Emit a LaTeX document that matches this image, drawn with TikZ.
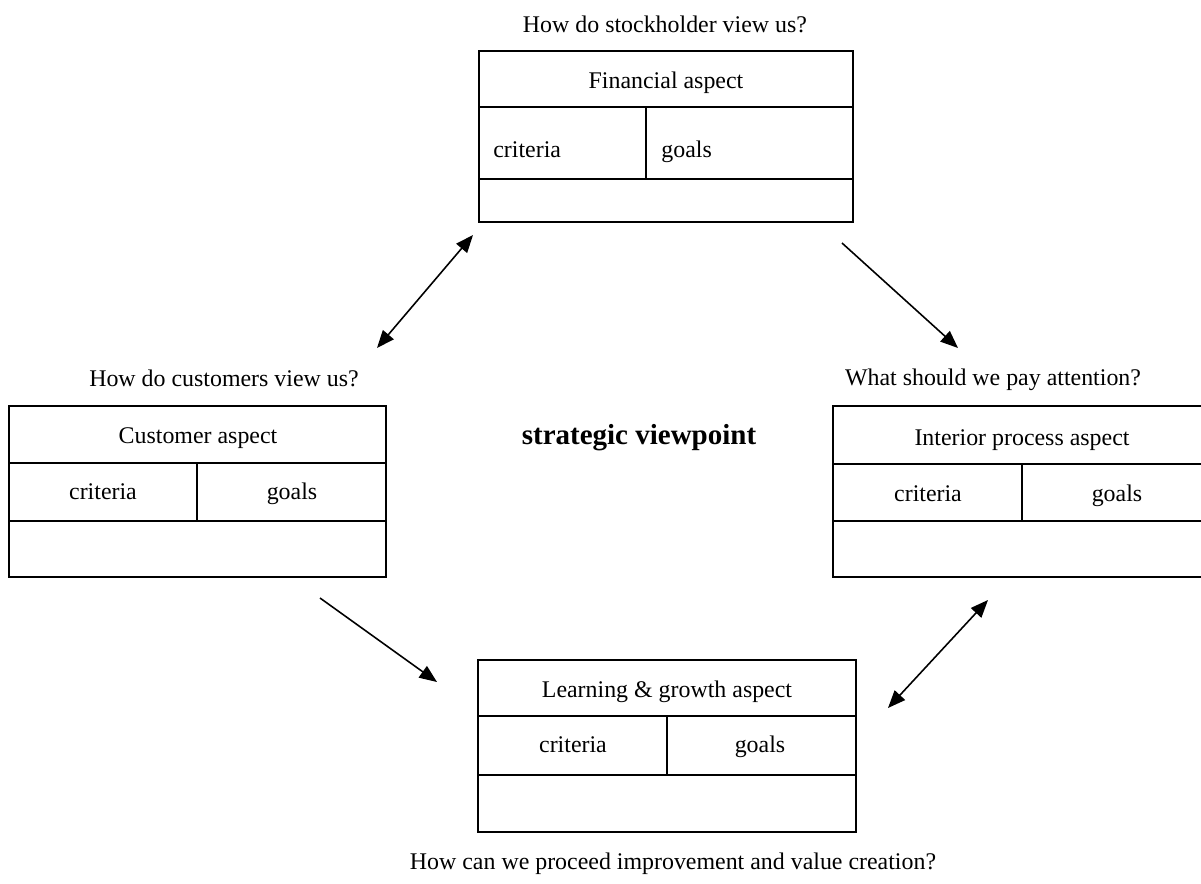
\documentclass[tikz,border=0pt]{standalone}
\usepackage{fontspec}
\setmainfont{Liberation Serif}
\usepackage{tikz}
\usetikzlibrary{arrows.meta}

\begin{document}
\begin{tikzpicture}[x=0.02cm,y=-0.02cm]
\tikzstyle{cell} = [draw, line width=.8pt]
\tikzstyle{txt} = [inner sep=0pt, anchor=base, font=\fontsize{13.6}{16}\selectfont]
\tikzstyle{link} = [line width=.9pt, -{Triangle[length=10pt,width=8pt]}]
\tikzstyle{dlink} = [line width=.9pt, {Triangle[length=10pt,width=8pt]}-{Triangle[length=10pt,width=8pt]}]
  \useasboundingbox (0,0) rectangle (1201,883);

  % financial aspect (top)
  \draw [cell] (479,51) rectangle (853,222);
  \draw [cell] (479,107) -- (853,107) (479,179) -- (853,179) (646,107) -- (646,179);
  \draw
  node (fin) [txt] at (666,88) {Financial aspect}
  node (fincrit) [txt, anchor=base west] at (493,157) {criteria}
  node (fingoal) [txt, anchor=base west] at (661,157) {goals}
  node (finq) [txt] at (665,32) {How do stockholder view us?};

  % customer aspect (left)
  \draw [cell] (9,406) rectangle (386,577);
  \draw [cell] (9,463) -- (386,463) (9,521) -- (386,521) (197,463) -- (197,521);
  \draw
  node (cus) [txt] at (198,443) {Customer aspect}
  node (cuscrit) [txt] at (103,499) {criteria}
  node (cusgoal) [txt] at (292,499) {goals}
  node (cusq) [txt] at (224,386) {How do customers view us?};

  % interior process aspect (right)
  \draw [cell] (833,406) rectangle (1205,577);
  \draw [cell] (833,464) -- (1205,464) (833,521) -- (1205,521) (1022,464) -- (1022,521);
  \draw
  node (int) [txt] at (1022,445) {Interior process aspect}
  node (intcrit) [txt] at (928,501) {criteria}
  node (intgoal) [txt] at (1117,501) {goals}
  node (intq) [txt] at (993,385) {What should we pay attention?};

  % learning & growth aspect (bottom)
  \draw [cell] (478,660) rectangle (856,832);
  \draw [cell] (478,716) -- (856,716) (478,775) -- (856,775) (667,716) -- (667,775);
  \draw
  node (lea) [txt] at (667,697) {Learning \& growth aspect}
  node (leacrit) [txt] at (573,752) {criteria}
  node (leagoal) [txt] at (760,752) {goals}
  node (leaq) [txt] at (673,869) {How can we proceed improvement and value creation?};

  \node (mid) [txt, font=\fontsize{16.5}{19}\selectfont\bfseries] at (639,444) {strategic viewpoint};

  % arrows
  \coordinate (a1) at (473,235);
  \coordinate (a2) at (377,348);
  \coordinate (b1) at (842,243);
  \coordinate (b2) at (958,348);
  \coordinate (c1) at (320,598);
  \coordinate (c2) at (437,682);
  \coordinate (d1) at (988,600);
  \coordinate (d2) at (888,708);
  \draw [dlink] (a2) -- (a1);
  \draw [link] (b1) -- (b2);
  \draw [link] (c1) -- (c2);
  \draw [dlink] (d2) -- (d1);
\end{tikzpicture}
\end{document}
